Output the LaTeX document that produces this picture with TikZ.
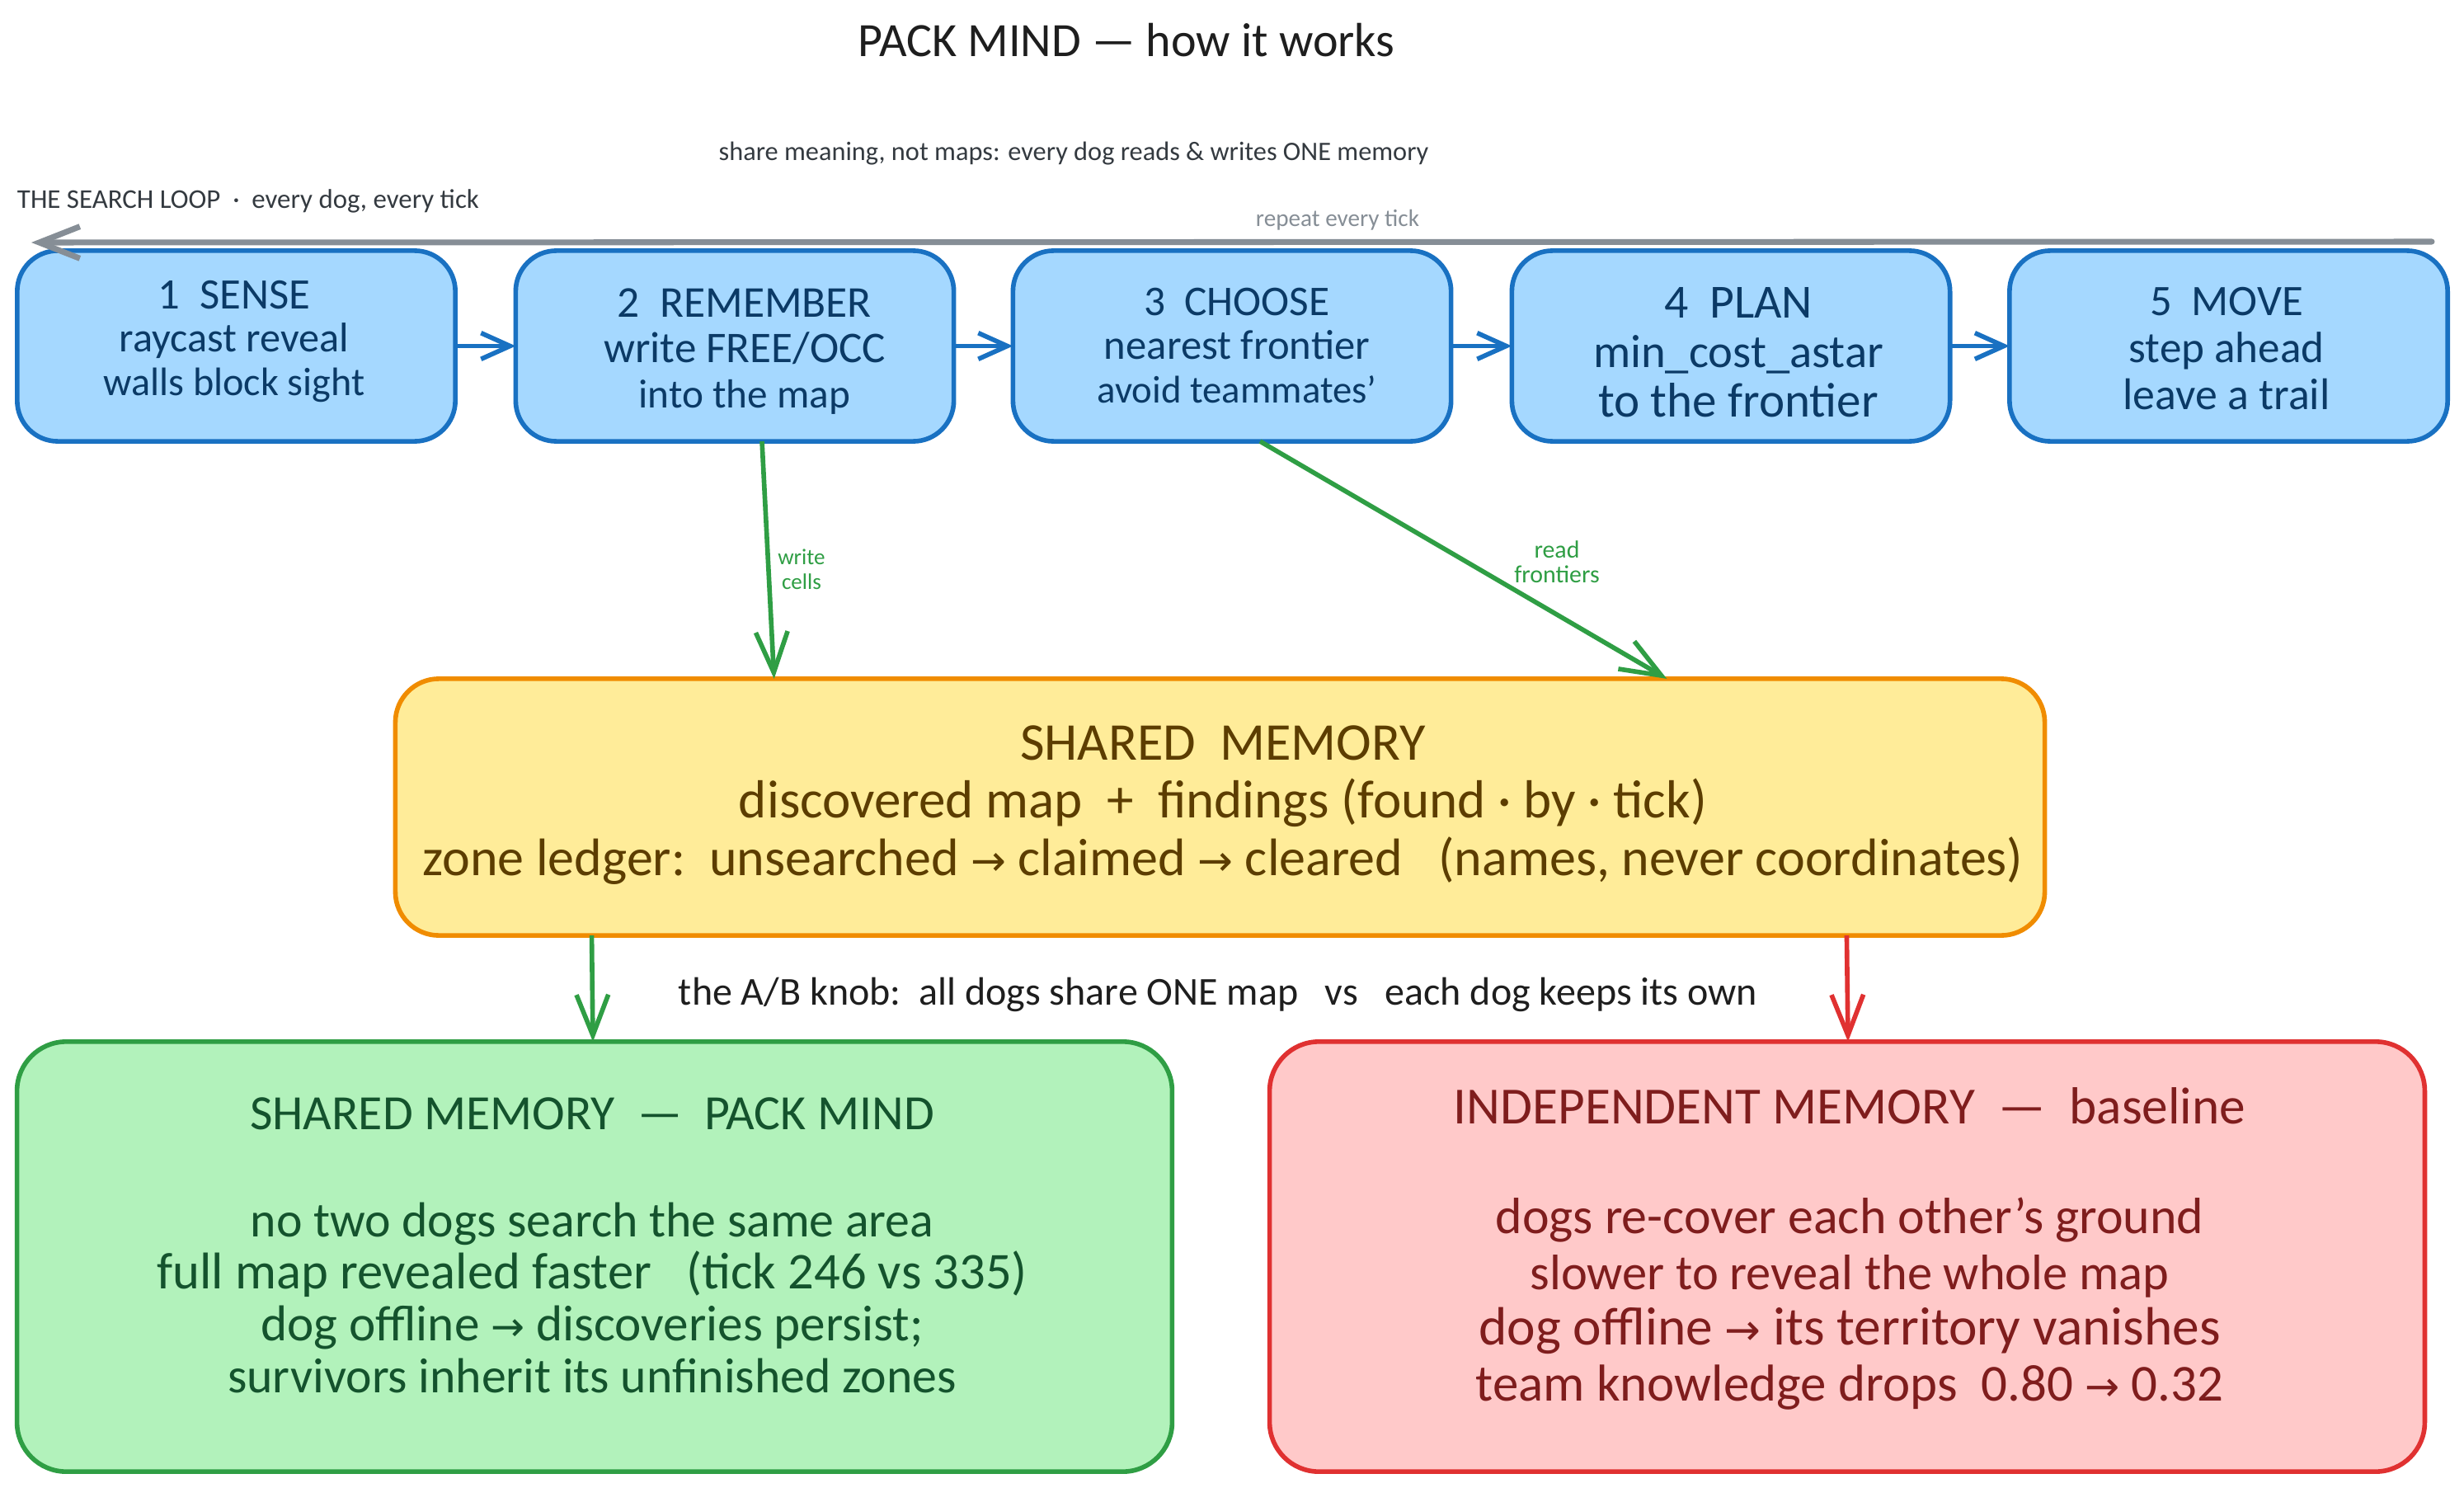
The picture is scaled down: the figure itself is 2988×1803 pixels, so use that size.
\documentclass[tikz,border=0pt]{standalone}
\usepackage{fontspec}
\setmainfont{Carlito}
\newfontfamily\symf{DejaVu Sans}
\usetikzlibrary{arrows.meta}
\newcommand{\ra}{{\symf\scalebox{0.8}{→}}}
\newcommand{\fz}[1]{\fontsize{#1}{\the\baselineskip}\selectfont}
\definecolor{blueS}{HTML}{1971C2}\definecolor{blueF}{HTML}{A5D8FF}\definecolor{blueT}{HTML}{0B3A66}
\definecolor{yelS}{HTML}{F08C00}\definecolor{yelF}{HTML}{FFEC99}\definecolor{yelT}{HTML}{5C3D00}
\definecolor{grnS}{HTML}{2F9E44}\definecolor{grnF}{HTML}{B2F2BB}\definecolor{grnT}{HTML}{14532D}
\definecolor{redS}{HTML}{E03131}\definecolor{redF}{HTML}{FFC9C9}\definecolor{redT}{HTML}{7F1D1D}
\definecolor{grayS}{HTML}{868E96}\definecolor{inkA}{HTML}{1E1E1E}\definecolor{inkB}{HTML}{343A40}
\tikzset{
 x=0.01cm,y=-0.01cm,
 boxbase/.style={draw,rectangle,line width=1.6pt,outer sep=0pt,inner sep=0pt},
 stepbox/.style={boxbase,draw=blueS,fill=blueF,rounded corners=14pt,minimum width=5.31cm,minimum height=2.31cm},
 membox/.style={boxbase,draw=yelS,fill=yelF,rounded corners=15pt,minimum width=19.99cm,minimum height=3.11cm},
 goodbox/.style={boxbase,draw=grnS,fill=grnF,rounded corners=17pt,minimum width=14cm,minimum height=5.21cm},
 badbox/.style={boxbase,draw=redS,fill=redF,rounded corners=17pt,minimum width=14cm,minimum height=5.21cm},
 txt/.style={align=center,inner sep=0pt,outer sep=0pt},
 steptxt/.style={txt,text=blueT,font=\fontsize{14}{15}\selectfont},
 memtxt/.style={txt,text=yelT,font=\fontsize{18.3}{20}\selectfont},
 goodtxt/.style={txt,text=grnT,font=\fontsize{17}{17.9}\selectfont},
 badtxt/.style={txt,text=redT,font=\fontsize{17}{19.3}\selectfont},
 small/.style={txt,font=\fontsize{8.5}{8.6}\selectfont,text=grnS},
 flow/.style={draw=blueS,line width=1.6pt,-{Straight Barb[length=10pt,width=9pt,line width=1.6pt]}},
 link/.style={draw=grnS,line width=1.6pt,-{Straight Barb[length=14pt,width=11pt,line width=1.6pt]}},
 alink/.style={draw=redS,line width=1.6pt,-{Straight Barb[length=14pt,width=11pt,line width=1.6pt]}},
 loop/.style={draw=grayS,line width=2pt,line cap=round,-{Straight Barb[length=14pt,width=11pt,line width=2pt]}},
}
\begin{document}
\begin{tikzpicture}
\useasboundingbox[fill=white] (0,0) rectangle (2988,1803);

\node[txt,text=inkA,font=\fontsize{16.5}{20}\selectfont] (title) at (1366,49) {PACK MIND — how it works};
\node[txt,text=inkB,font=\fontsize{9.2}{12}\selectfont] (sub) at (1302,186) {share meaning, not maps: every dog reads \& writes ONE memory};
\node[txt,text=inkB,font=\fontsize{9.35}{12}\selectfont,anchor=west] (loopt) at (21,244) {THE SEARCH LOOP \ · \ every dog, every tick};
\node[txt,text=grayS,font=\fontsize{8.3}{10}\selectfont] (rep) at (1622,267) {repeat every tick};

\node[stepbox] (b1) at (286.5,419.5) {};
\node[stepbox] (b2) at (891,419.5) {};
\node[stepbox] (b3) at (1494,419.5) {};
\node[stepbox] (b4) at (2099,419.5) {};
\node[stepbox] (b5) at (2702.5,419.5) {};
\node[steptxt] (t1) at (284,414) {\fz{15}1\ \ SENSE\\\fz{14.3}raycast reveal\\\fz{13.7}walls block sight};
\node[steptxt,font=\fontsize{15}{15.6}\selectfont] (t2) at (903,426) {\fz{15.2}2\ \ REMEMBER\\\fz{15.1}write FREE/OCC\\\fz{14}into the map};
\node[steptxt] (t3) at (1500,419) {\fz{14.6}3\ \ CHOOSE\\\fz{14.4}nearest frontier\\\fz{13.3}avoid teammates'};
\node[steptxt,font=\fontsize{16}{17}\selectfont] (t4) at (2108,427) {\fz{16.4}4\ \ PLAN\\\fz{16.1}min\_cost\_astar\\\fz{16.8}to the frontier};
\node[steptxt,font=\fontsize{15}{16.2}\selectfont] (t5) at (2700,423) {\fz{15}5\ \ MOVE\\\fz{15.1}step ahead\\\fz{15.3}leave a trail};

\node[membox] (mem) at (1479.5,978.5) {};
\node[memtxt] (memt) at (1483,976) {SHARED\ \ MEMORY\\\fz{18.5}discovered map\ \ +\ \ findings (found · by · tick)\\\fz{18.2}zone ledger:\ \ unsearched \ra{} claimed \ra{} cleared\ \ \ (names, never coordinates)};

\node[goodbox] (good) at (721,1523.5) {};
\node[badbox] (bad) at (2240,1523.5) {};
\node[goodtxt] (goodt) at (718,1510) {SHARED MEMORY\ \ —\ \ PACK MIND\\[19pt]no two dogs search the same area\\\fz{17.8}full map revealed faster\ \ \ (tick 246 vs 335)\\\fz{17.4}dog offline \ra{} discoveries persist;\\\fz{17}survivors inherit its unfinished zones};
\node[badtxt] (badt) at (2243,1514) {\fz{18}INDEPENDENT MEMORY\ \ —\ \ baseline\\[18.5pt]\fz{17.6}dogs re-cover each other's ground\\\fz{17.2}slower to reveal the whole map\\\fz{18.6}dog offline \ra{} its territory vanishes\\\fz{17.9}team knowledge drops\ \ 0.80 \ra{} 0.32};

\node[txt,text=inkA,font=\fontsize{13.65}{16}\selectfont] (knob) at (1477,1206) {the A/B knob:\ \ all dogs share ONE map\ \ \ vs\ \ \ each dog keeps its own};
\node[small,font=\fontsize{7.7}{8.6}\selectfont] (lw) at (972,690) {write\\cells};
\node[small] (lr) at (1888,681) {read\\frontiers};

\coordinate (loopR) at (2949,293);
\coordinate (loopL) at (38,294);
\draw[loop] (loopR) -- (loopL);
\draw[flow] (b1) -- (b2);
\draw[flow] (b2) -- (b3);
\draw[flow] (b3) -- (b4);
\draw[flow] (b4) -- (b5);
\draw[link] ([xshift=0.33cm]b2.south) -- ([xshift=-5.405cm]mem.north);
\draw[link] ([xshift=0.34cm]b3.south) -- ([xshift=5.415cm]mem.north);
\draw[link] ([xshift=-7.615cm]mem.south) -- ([xshift=-0.02cm]good.north);
\draw[alink] ([xshift=7.595cm]mem.south) -- ([xshift=0.01cm]bad.north);
\end{tikzpicture}
\end{document}
